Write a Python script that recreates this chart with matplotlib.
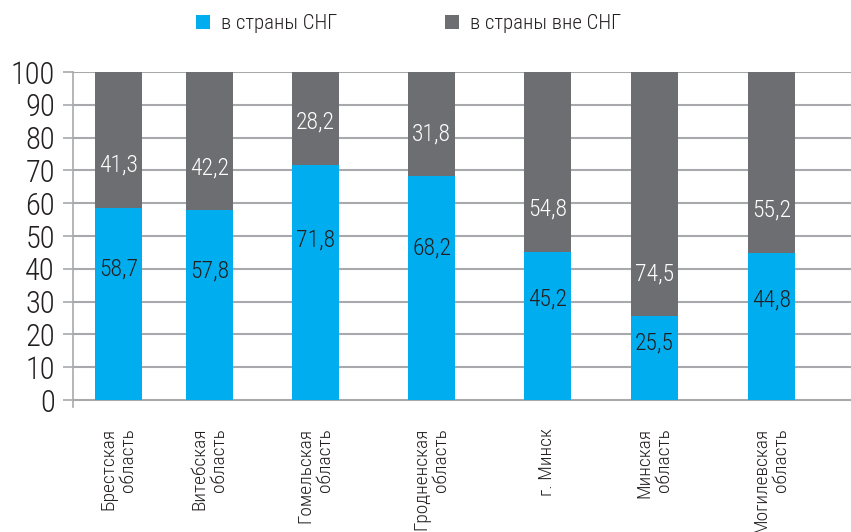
import numpy as np
import matplotlib
matplotlib.use("Agg")
import matplotlib.pyplot as plt

plt.rcParams['font.family'] = ['Roboto Condensed', 'DejaVu Sans']
plt.rcParams['font.stretch'] = 'condensed'
plt.rcParams['font.weight'] = 'light'

# data
regions = ["Брестская\nобласть", "Витебская\nобласть", "Гомельская\nобласть",
           "Гродненская\nобласть", "г. Минск", "Минская\nобласть",
           "Могилевская\nобласть"]
cis = [58.7, 57.8, 71.8, 68.2, 45.2, 25.5, 44.8]
non_cis = [41.3, 42.2, 28.2, 31.8, 54.8, 74.5, 55.2]
series_names = ["в страны СНГ", "в страны вне СНГ"]

# layout (bars are not evenly spaced in the original)
xpos = np.array([1.185, 2.095, 3.155, 4.315, 5.475, 6.545, 7.715])
width = 0.47

blue = "#00aeef"
grey = "#6d6e71"
dark = "#231f20"
gridc = "#a7a9ac"

fig = plt.figure(figsize=(8.51, 5.32), dpi=100)
ax = fig.add_axes([73/851, 1 - 407/532, 1 - 73/851, (407 - 72)/532])

b1 = ax.bar(xpos, cis, width, color=blue, zorder=3)
b2 = ax.bar(xpos, non_cis, width, bottom=cis, color=grey, zorder=3)

for x, lo, hi in zip(xpos, cis, non_cis):
    ax.text(x, lo * 0.68, f"{lo:.1f}".replace(".", ","), ha="center", va="center",
            fontsize=17, color=dark, zorder=4)
    ax.text(x, lo + 13, f"{hi:.1f}".replace(".", ","), ha="center", va="center",
            fontsize=17, color="white", zorder=4)

ax.set_xlim(0.73, 8.51)
ax.set_ylim(-2.1, 100)
ax.set_yticks(np.arange(0, 101, 10))
ax.yaxis.grid(True, color=gridc, linewidth=1.5, zorder=0)
ax.tick_params(axis="y", length=7, width=1.2, color=gridc, pad=6,
               labelsize=22, labelcolor=dark)
ax.set_xticks(xpos)
ax.set_xticklabels(regions, rotation=90, fontsize=14, color=dark,
                   multialignment="right", linespacing=1.1)
ax.tick_params(axis="x", length=0, pad=15)
for s in ["top", "right", "bottom"]:
    ax.spines[s].set_visible(False)
ax.spines["left"].set_color(gridc)
ax.spines["left"].set_linewidth(1.2)

fig.legend([b1, b2], series_names, loc="center", bbox_to_anchor=(0.48, 0.955),
           ncol=2, frameon=False, fontsize=15, handlelength=0.67, handleheight=0.67,
           columnspacing=5.2, handletextpad=0.52, labelcolor=dark)

fig.savefig("out.png", dpi=100)
